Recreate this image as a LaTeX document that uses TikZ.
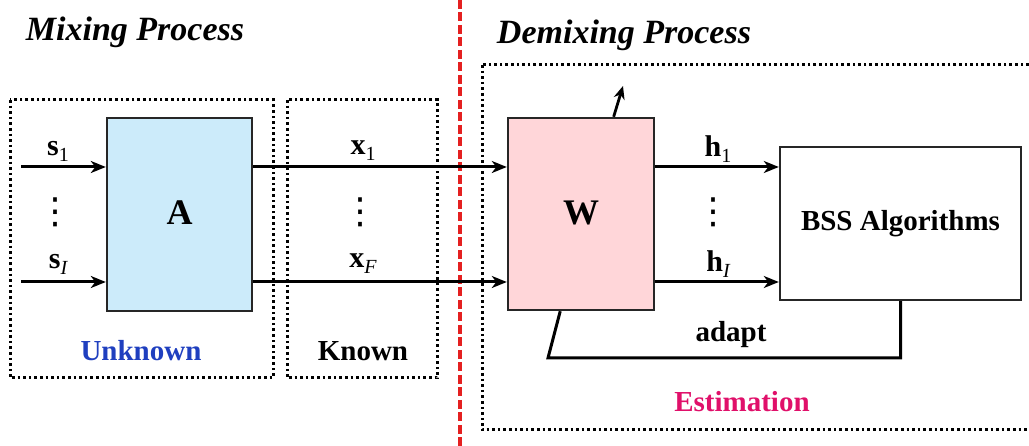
\documentclass[tikz,border=0pt]{standalone}
\usepackage{fontspec}
\setmainfont{Liberation Serif}
\newfontfamily\dvfont{DejaVu Sans}
\usetikzlibrary{arrows.meta,calc}
\definecolor{afill}{HTML}{CCEBFA}
\definecolor{wfill}{HTML}{FFD6D9}
\definecolor{unkblue}{HTML}{1F3FBF}
\definecolor{estmag}{HTML}{E0106A}
\definecolor{divred}{HTML}{E42020}
\newcommand{\vsub}[2]{\textbf{#1}\raisebox{-0.2em}{\fontsize{20}{22}\selectfont\mdseries #2}}
\newcommand{\vdts}{{\dvfont\fontsize{36}{38}\selectfont ⋮}}
\tikzset{
  blk/.style={draw=black!85, line width=2.4pt, inner sep=0pt},
  arr/.style={line width=3pt, -{Stealth[length=15pt,width=12pt,inset=4.5pt]}},
  ln/.style={line width=3pt},
  dotbox/.style={draw=black, line width=3pt, dash pattern=on 2.6pt off 3pt},
  lbl/.style={font=\fontsize{29}{34}\selectfont\bfseries, inner sep=0pt},
  mlbl/.style={font=\fontsize{30}{34}\selectfont, inner sep=0pt},
  ttl/.style={font=\fontsize{34}{40}\selectfont\bfseries\itshape, inner sep=0pt},
}
\begin{document}
\begin{tikzpicture}[x=1pt,y=-1pt]
\useasboundingbox (0,0) rectangle (1029,446);
\clip (0,0) rectangle (1029,446);
% titles
\node[ttl] (t1) at (135,32) {Mixing Process};
\node[ttl] (t2) at (624,35) {Demixing Process};
% dotted boxes
\draw[dotbox] (10,100) rectangle (273,378);
\draw[dotbox] (287,100) rectangle (437,378);
\draw[dotbox] (482,65) rectangle (1040,430);
% divider
\draw[divred, line width=3.8pt, dash pattern=on 9pt off 3.5pt] (460,0) -- (460,446);
% blocks
\node[blk, fill=afill, minimum width=145pt, minimum height=193pt] (A) at (179.5,214.5) {};
\node[font=\fontsize{36}{42}\selectfont\bfseries] (Al) at (179.5,213) {A};
\node[blk, fill=wfill, minimum width=146pt, minimum height=192pt] (W) at (581,214) {};
\node[font=\fontsize{36}{42}\selectfont\bfseries] (Wl) at (581,213) {W};
\node[blk, fill=white, minimum width=241pt, minimum height=153pt, lbl] (B) at (900.5,223.5) {BSS Algorithms};
% signal rows
\coordinate (r1) at (21,167);
\coordinate (r2) at (21,282);
\draw[arr] (r1) -- (r1 -| A.west);
\draw[arr] (r2) -- (r2 -| A.west);
\draw[arr] (r1 -| A.east) -- (r1 -| W.west);
\draw[arr] (r2 -| A.east) -- (r2 -| W.west);
\draw[arr] (r1 -| W.east) -- (r1 -| B.west);
\draw[arr] (r2 -| W.east) -- (r2 -| B.west);
% labels
\node[mlbl] (ls1) at (58,151) {\vsub{s}{1}};
\node[mlbl] (lsI) at (58,264) {\vsub{s}{\itshape I}};
\node[mlbl] (ld1) at (55,212) {\vdts};
\node[mlbl] (lx1) at (363,151) {\vsub{x}{1}};
\node[mlbl] (lxF) at (363,264) {\vsub{x}{\itshape F}};
\node[mlbl] (ld2) at (360,212) {\vdts};
\node[mlbl] (lh1) at (718,149) {\vsub{h}{1}};
\node[mlbl] (lhI) at (718,264) {\vsub{h}{\itshape I}};
\node[mlbl] (ld3) at (713,212) {\vdts};
% adapt loop
\coordinate (wb) at ($(W.south west)!0.36!(W.south east)$);
\coordinate (ad) at (548,358);
\draw[ln, line join=miter] (wb) -- (ad) -| (B.south);
\node[lbl] (adl) at (731,335) {adapt};
% tilted arrow
\coordinate (wt) at ($(W.north west)!0.72!(W.north east)$);
\coordinate (tip) at (623,86);
\draw[line width=2.8pt, -{Stealth[length=13pt,width=11pt,inset=4pt]}] (wt) -- (tip);
% box captions
\node[lbl, text=unkblue] (unk) at (141,351) {Unknown};
\node[lbl] (kn) at (363,351) {Known};
\node[lbl, text=estmag] (est) at (742,402) {Estimation};
\end{tikzpicture}
\end{document}
